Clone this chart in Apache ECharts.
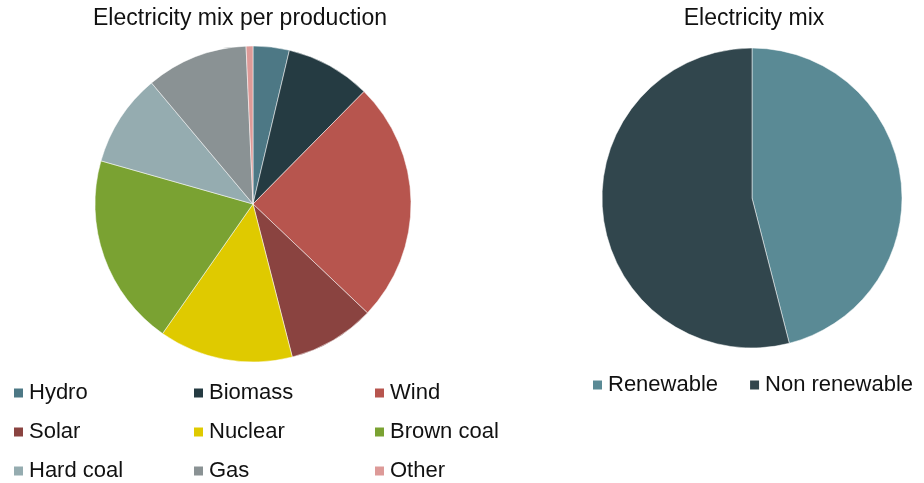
<!DOCTYPE html>
<html>
<head>
<meta charset="utf-8">
<script src="https://cdn.jsdelivr.net/npm/echarts@6/dist/echarts.min.js"></script>
<style>
  html, body { margin: 0; padding: 0; background: #fff; }
  #chart { width: 924px; height: 483px; }
</style>
</head>
<body>
<div id="chart"></div>
<script>
// shares per production source (%)
const sources = ["Hydro", "Biomass", "Wind", "Solar", "Nuclear", "Brown coal", "Hard coal", "Gas", "Other"];
const shares = [3.7, 8.7, 24.7, 8.9, 13.7, 19.7, 9.5, 10.4, 0.7];
const sourceColors = ["#4d7885", "#253b42", "#b7554e", "#8a4340", "#dfca00", "#7aa232", "#95acb0", "#8a9294", "#dd9a98"];

const mixNames = ["Renewable", "Non renewable"];
const mixShares = [46.0, 54.0];
const mixColors = ["#5a8a95", "#31464d"];

const chart = echarts.init(document.getElementById("chart"));

const txt = { color: "#111", fontSize: 22, fontFamily: "Liberation Sans, Arial, sans-serif", lineHeight: 22 };

// left legend is 3 columns, so one vertical legend per column
const colLeft = [12, 192, 373];
const legends = colLeft.map((x, c) => ({
  orient: "vertical",
  left: x,
  top: 382,
  height: 140,
  padding: 0,
  icon: "rect",
  itemWidth: 11,
  itemHeight: 11,
  itemGap: 17,
  textStyle: txt,
  data: [sources[c], sources[c + 3], sources[c + 6]],
}));
legends.push({
  orient: "horizontal",
  left: 591,
  top: 374,
  padding: 0,
  icon: "rect",
  itemWidth: 11,
  itemHeight: 11,
  itemGap: 30,
  textStyle: txt,
  data: mixNames,
});

const titleTxt = { ...txt, fontSize: 23, lineHeight: 23, fontWeight: "normal" };

const option = {
  animation: false,
  title: [
    { text: "Electricity mix per production", left: 240, top: 7, padding: 0, textAlign: "center", textStyle: titleTxt },
    { text: "Electricity mix", left: 754, top: 7, padding: 0, textAlign: "center", textStyle: titleTxt },
  ],
  legend: legends,
  series: [
    {
      type: "pie",
      center: [253, 204],
      radius: 158,
      startAngle: 90,
      clockwise: true,
      label: { show: false },
      labelLine: { show: false },
      itemStyle: { borderColor: "#fff", borderWidth: 0.5 },
      data: sources.map((n, i) => ({ name: n, value: shares[i], itemStyle: { color: sourceColors[i] } })),
    },
    {
      type: "pie",
      center: [752, 198],
      radius: 150,
      startAngle: 90,
      clockwise: true,
      label: { show: false },
      labelLine: { show: false },
      itemStyle: { borderColor: "#fff", borderWidth: 0.5 },
      data: mixNames.map((n, i) => ({ name: n, value: mixShares[i], itemStyle: { color: mixColors[i] } })),
    },
  ],
};

chart.setOption(option);
</script>
</body>
</html>
